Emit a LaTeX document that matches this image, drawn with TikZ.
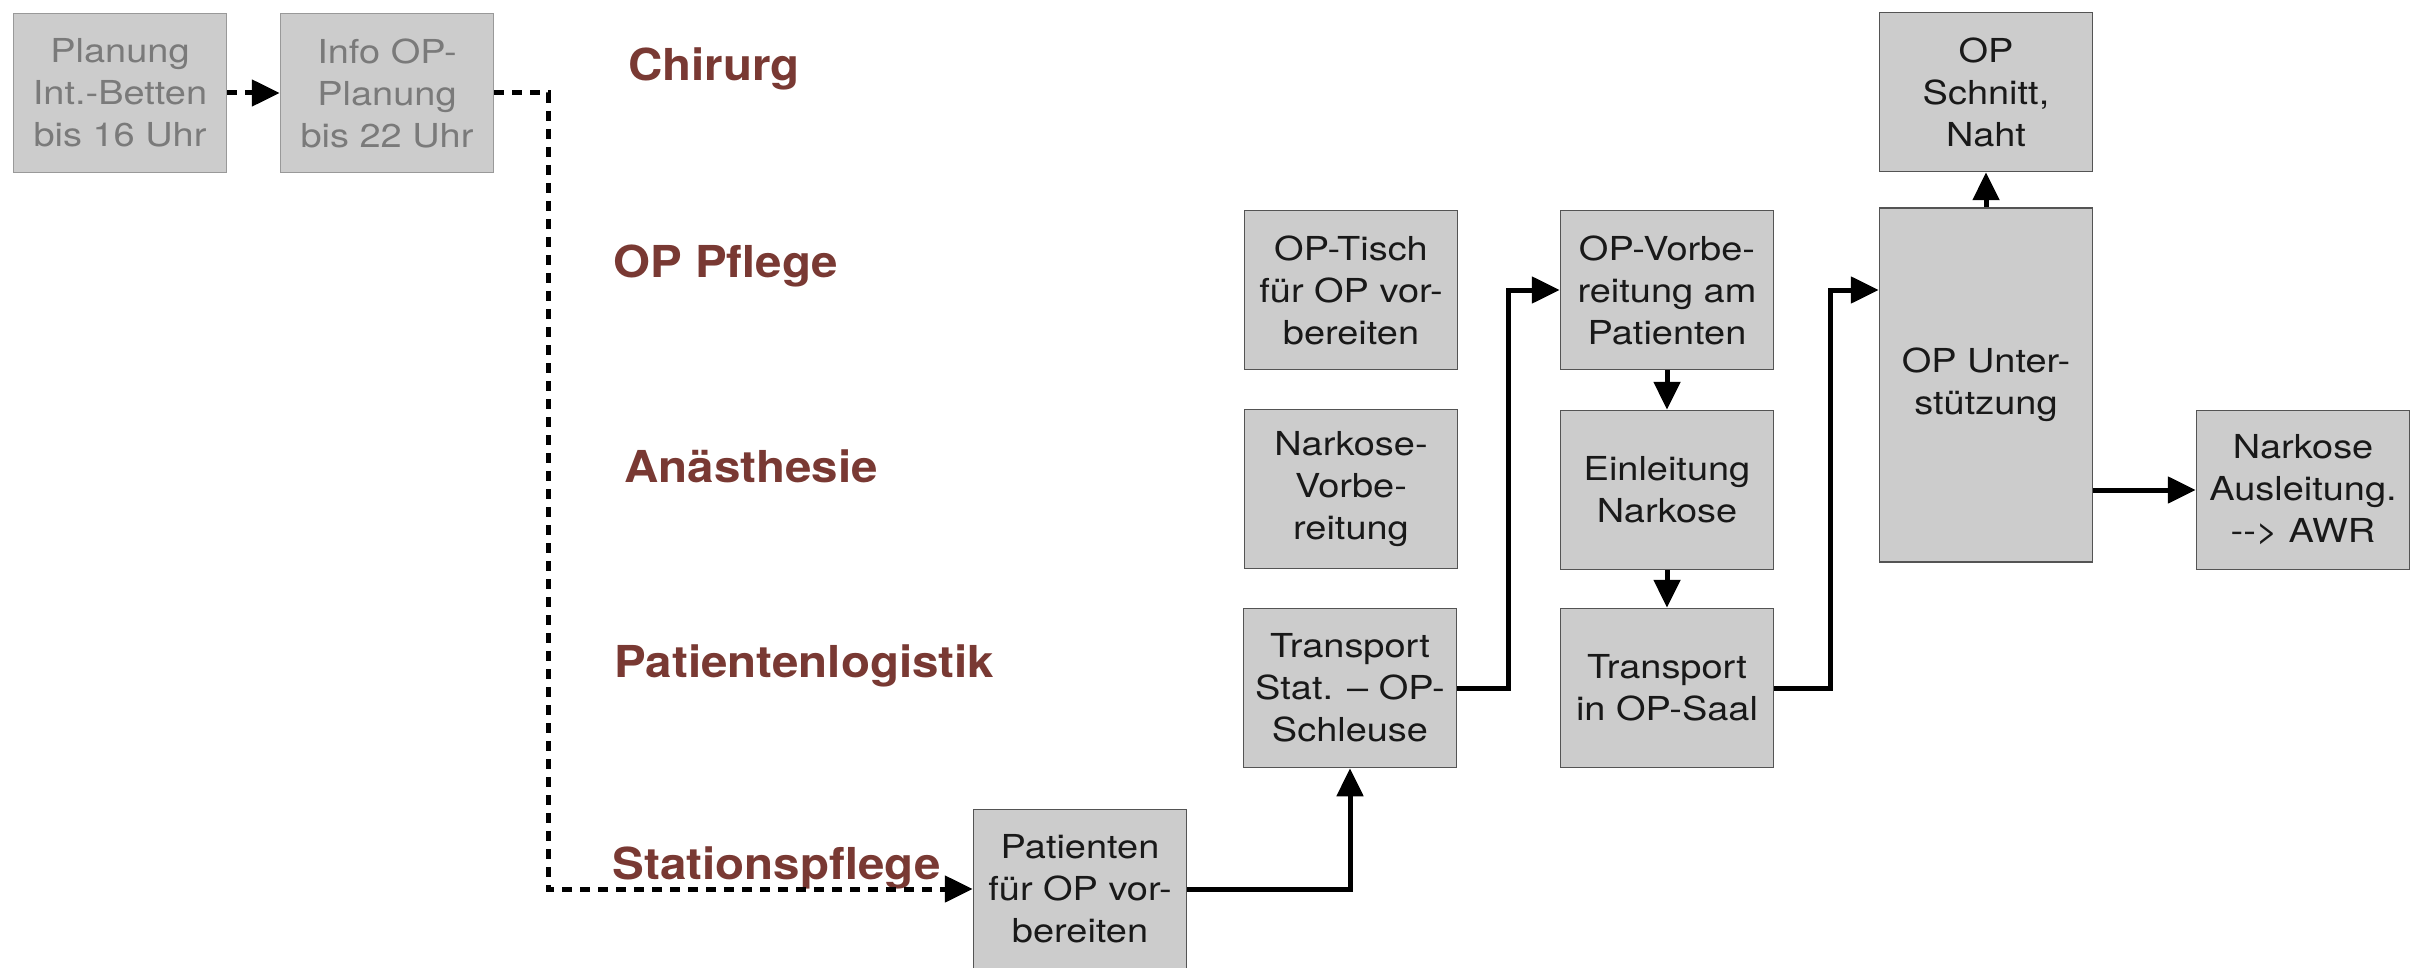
\documentclass[tikz,border=0pt]{standalone}
\usepackage{fontspec}
\setmainfont{TeX Gyre Heros}
\newfontfamily\boxfont[FakeStretch=1.15]{TeX Gyre Heros}
\newfontfamily\lanefont[FakeStretch=1.08]{TeX Gyre Heros}
\usetikzlibrary{arrows.meta,positioning}
\definecolor{boxFill}{gray}{0.8}
\definecolor{boxLine}{gray}{0.33}
\definecolor{oldText}{gray}{0.48}
\definecolor{oldLine}{gray}{0.6}
\definecolor{laneRed}{RGB}{121,57,51}
\tikzset{
    task/.style={rectangle, draw=boxLine, line width=0.75pt, fill=boxFill, align=center,
        minimum width=106.5pt, minimum height=79.5pt, inner sep=0pt, text=black!90,
        font=\boxfont\fontsize{16.5}{21}\selectfont},
    oldtask/.style={task, draw=oldLine, text=oldText},
    lane/.style={anchor=base west, inner sep=0pt, text=laneRed,
        font=\lanefont\fontsize{22}{26}\selectfont\bfseries},
    flow/.style={line width=2.5pt, -{Triangle[length=14pt,width=13pt]}},
    dflow/.style={flow, dash pattern=on 5pt off 4pt}
}
\begin{document}
\begin{tikzpicture}[x=0.5pt,y=-0.5pt]
\useasboundingbox (0,0) rectangle (2419,968);
% Zustaendigkeiten
\node[lane] (chir) at (628, 81) {Chirurg};
\node[lane] (oppfl) at (613,278) {OP Pflege};
\node[lane] (anae) at (624,482) {Anästhesie};
\node[lane] (plog) at (614,677) {Patientenlogistik};
\node[lane] (stpfl) at (612,879) {Stationspflege};
% Vortag
\node[oldtask] (plan) at (120,93) {Planung\\Int.-Betten\\bis 16 Uhr};
\node[oldtask] (info) at (387,93) {Info OP-\\Planung\\bis 22 Uhr};
% OP-Tag
\node[task] (patvor) at (1080,889) {Patienten\\für OP vor-\\bereiten};
\node[task] (transtat) at (1350,688) {Transport\\Stat. – OP-\\Schleuse};
\node[task] (tisch) at (1351,290) {OP-Tisch\\für OP vor-\\bereiten};
\node[task] (narkvor) at (1351,489) {Narkose-\\Vorbe-\\reitung};
\node[task] (opvor) at (1667,290) {OP-Vorbe-\\reitung am\\Patienten};
\node[task] (einl) at (1667,490) {Einleitung\\Narkose};
\node[task] (transsaal) at (1667,688) {Transport\\in OP-Saal};
\node[task,minimum height=177pt] (unterst) at (1986,385) {OP Unter-\\stützung};
\node[task] (schnitt) at (1986,92) {OP\\Schnitt,\\Naht};
\node[task] (auslt) at (2303,490) {Narkose\\Ausleitung.\\-{}-> AWR};
% Pfeile
\draw[dflow] (plan) -- (info);
\draw[dflow] (info.east) -- ++(54,0) |- (patvor.west);
\draw[flow] (patvor.east) -| (transtat.south);
\draw[flow] (transtat.east) -- ++(51,0) |- (opvor.west);
\draw[flow] (opvor) -- (einl);
\draw[flow] (einl) -- (transsaal);
\draw[flow] (transsaal.east) -- ++(56,0) |- (unterst.west |- opvor.west);
\draw[flow] (unterst) -- (schnitt);
\draw[flow] (unterst.east |- auslt.west) -- (auslt.west);
\end{tikzpicture}
\end{document}
